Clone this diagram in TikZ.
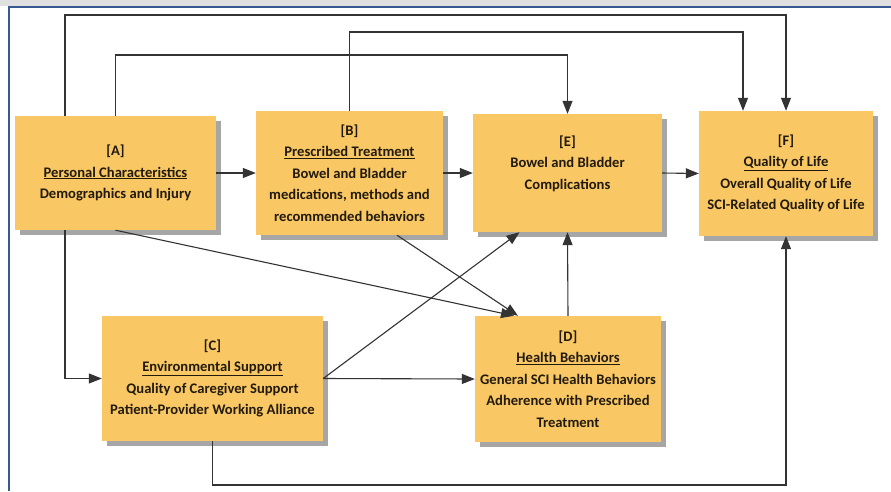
\documentclass[tikz,border=0pt]{standalone}
\usepackage{fontspec}
\setmainfont{Carlito}
\usepackage{tikz}
\usepackage{xcolor}
\usetikzlibrary{arrows.meta, positioning, calc, shadows}
\definecolor{boxfill}{HTML}{F9C865}
\definecolor{boxtext}{HTML}{221A0C}
\definecolor{linkgray}{HTML}{333333}
\definecolor{frameblue}{HTML}{36598F}

\begin{document}
\begin{tikzpicture}[x=1pt, y=-1pt,
            factor/.style={rectangle, fill=boxfill, text=boxtext, align=center, inner sep=2pt,
                font=\fontsize{14.6}{21.5}\selectfont\bfseries,
                drop shadow={shadow xshift=5pt, shadow yshift=-5pt, fill=black, opacity=0.35}},
            link/.style={draw=linkgray, line width=1.1pt, -{Triangle[length=13pt, width=10pt]}}]
            \useasboundingbox (0,0) rectangle (891,491);
            \fill[white] (0,0) rectangle (891,491);
            \fill[black!12] (0,0) rectangle (891,6);
            \draw[frameblue, line width=2.4pt] (9,491) |- (891,7);
            % factors
            \node[factor, minimum width=201pt, minimum height=114pt] (A) at (115.5,173)
                {[A]\\\underline{Personal Characteristics}\\Demographics and Injury};
            \node[factor, minimum width=187pt, minimum height=124pt] (B) at (349.5,173)
                {[B]\\\underline{Prescribed Treatment}\\Bowel and Bladder\\medications, methods and\\recommended behaviors};
            \node[factor, minimum width=189pt, minimum height=118pt] (E) at (567.5,173)
                {[E]\\Bowel and Bladder\\Complications\\\mbox{}};
            \node[factor, minimum width=174pt, minimum height=125pt] (F) at (786,173.5)
                {[F]\\\underline{Quality of Life}\\Overall Quality of Life\\SCI-Related Quality of Life};
            \node[factor, minimum width=221pt, minimum height=125pt] (C) at (212.5,378.5)
                {[C]\\\underline{Environmental Support}\\Quality of Caregiver Support\\Patient-Provider Working Alliance};
            \node[factor, minimum width=186pt, minimum height=126pt] (D) at (568,379)
                {[D]\\\underline{Health Behaviors}\\General SCI Health Behaviors\\Adherence with Prescribed\\Treatment};
            % routing levels
            \coordinate (lvlA) at (0,15);
            \coordinate (lvlB) at (0,32);
            \coordinate (lvlC) at (0,55);
            \coordinate (lvlD) at (0,485);
            \coordinate (Aleft) at ([xshift=-50.5pt]A.north);
            \coordinate (Aleftb) at ([xshift=-50.5pt]A.south);
            \coordinate (Fleft) at ([xshift=-43pt]F.north);
            % links
            \draw[link] (Aleft) |- (lvlA -| F.north) -- (F.north);
            \draw[link] (B.north) |- (lvlB -| Fleft) -- (Fleft);
            \draw[link] (A.north) |- (lvlC -| E.north) -- (E.north);
            \draw[link] (A.east) -- (B.west);
            \draw[link] (B.east) -- (E.west);
            \draw[link] (E.east) -- (F.west);
            \draw[link] (Aleftb) |- (C.west);
            \draw[link] (A.south) -- ([xshift=-54pt]D.north);
            \draw[link] ([xshift=47.5pt]B.south) -- ([xshift=-50pt]D.north);
            \draw[link] (C.east) -- ([xshift=-48pt]E.south);
            \draw[link] (C.east) -- (D.west);
            \draw[link] (D.north) -- (E.south);
            \draw[link] (C.south) |- (lvlD -| F.south) -- (F.south);
        \end{tikzpicture}
\end{document}
